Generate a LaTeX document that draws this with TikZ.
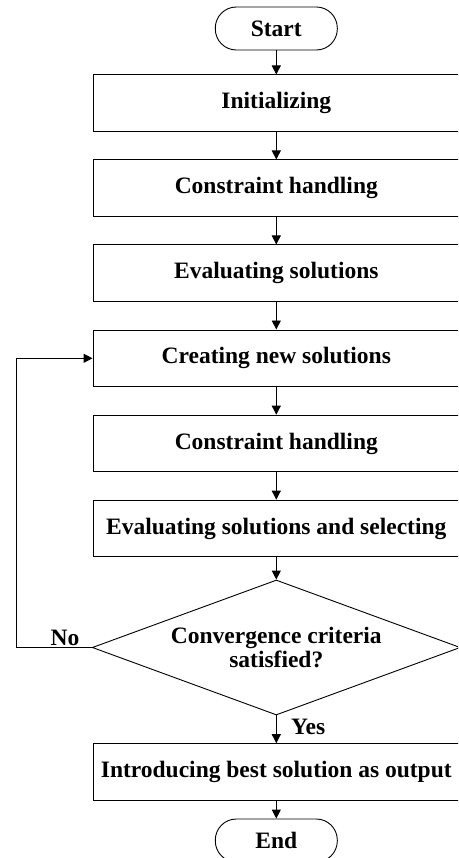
\documentclass[tikz,border=0pt]{standalone}
\usepackage{fontspec}
\setmainfont{Liberation Serif}
\usetikzlibrary{shapes.geometric,arrows.meta}
\begin{document}
\begin{tikzpicture}[x=1pt,y=-1pt,
  every node/.style={font=\fontsize{23.5}{27}\selectfont\bfseries},
  procbox/.style={draw=black,line width=0.9pt,minimum width=366.6pt,minimum height=56.7pt,inner sep=0pt},
  termbox/.style={draw=black,line width=0.9pt,rounded corners=21pt,minimum width=122pt,minimum height=43pt,inner sep=0pt},
  decbox/.style={draw=black,line width=0.9pt,shape=diamond,shape aspect=2.726,minimum width=368pt,minimum height=135pt,inner sep=0pt,align=center},
  flow/.style={draw=black,line width=0.9pt,-{Triangle[length=9pt,width=9pt]}},
  lbl/.style={inner sep=0pt}]
\clip (0,0) rectangle (458,858);
\node[termbox] (start) at (276.3,28.5) {Start};
\node[procbox] (b1) at (276.3,103.3) {Initializing};
\node[procbox] (b2) at (276.3,188.3) {Constraint handling};
\node[procbox] (b3) at (276.3,273.3) {Evaluating solutions};
\node[procbox] (b4) at (276.3,358.3) {Creating new solutions};
\node[procbox] (b5) at (276.3,443.5) {Constraint handling};
\node[procbox] (b6) at (276.3,528.5) {Evaluating solutions and selecting};
\node[decbox] (dia) at (276.3,647.5) {Convergence criteria\\[-3pt]satisfied?};
\node[procbox] (b7) at (276.3,772) {Introducing best solution as output};
\node[termbox] (end) at (276.3,840.5) {End};
\coordinate (lp) at (16.7,647.5);
\draw[flow] (start) -- (b1);
\draw[flow] (b1) -- (b2);
\draw[flow] (b2) -- (b3);
\draw[flow] (b3) -- (b4);
\draw[flow] (b4) -- (b5);
\draw[flow] (b5) -- (b6);
\draw[flow] (b6) -- (dia);
\draw[flow] (dia) -- (b7);
\draw[flow] (b7) -- (end);
\draw[flow] (dia.west) -- (lp) |- (b4.west);
\node[lbl] (no) at (65,638) {No};
\node[lbl,anchor=west] (yes) at (291,727) {Yes};
\end{tikzpicture}
\end{document}
